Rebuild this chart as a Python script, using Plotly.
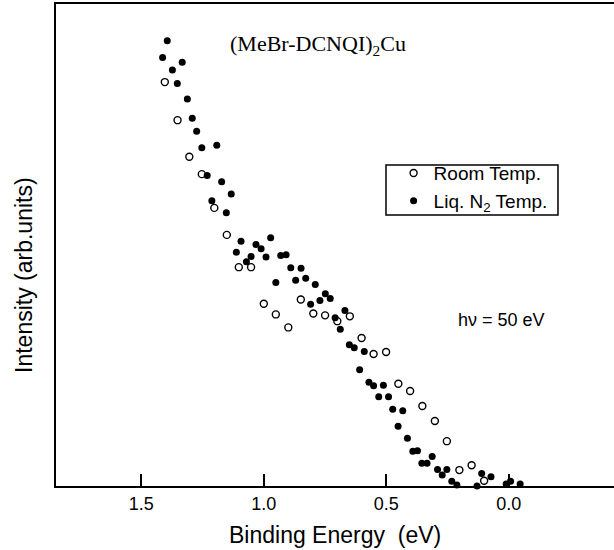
import plotly.graph_objects as go

# Room temperature spectrum (open circles)
room_energy = [1.404, 1.352, 1.304, 1.253, 1.202, 1.151, 1.102, 1.052, 1.000,
               0.951, 0.900, 0.849, 0.798, 0.750, 0.700, 0.649, 0.601, 0.552,
               0.501, 0.451, 0.403, 0.353, 0.302, 0.253, 0.202, 0.152, 0.101]
room_intensity = [83.8, 75.9, 68.3, 64.7, 57.7, 52.1, 45.4, 45.4, 37.8,
                  35.6, 32.9, 38.7, 35.8, 35.4, 34.2, 35.2, 30.7, 27.4,
                  27.8, 21.2, 19.7, 16.6, 13.5, 9.3, 3.3, 4.3, 1.1]

# Liquid N2 temperature spectrum (filled circles)
ln2_energy = [1.394, 1.413, 1.333, 1.373, 1.353, 1.312, 1.292, 1.274, 1.253,
              1.192, 1.231, 1.172, 1.133, 1.212, 1.153, 1.093, 0.972, 1.032,
              1.011, 1.112, 1.052, 0.991, 1.071, 0.931, 0.909, 0.890, 0.848,
              0.870, 0.829, 0.951, 0.790, 0.749, 0.729, 0.771, 0.809, 0.669,
              0.709, 0.688, 0.651, 0.631, 0.590, 0.609, 0.571, 0.552, 0.512,
              0.531, 0.491, 0.474, 0.433, 0.452, 0.414, 0.392, 0.373, 0.313,
              0.355, 0.334, 0.291, 0.253, 0.272, 0.233, 0.212, 0.130, 0.111,
              0.073, 0.011, -0.007, -0.046]
ln2_intensity = [92.4, 88.9, 87.9, 86.3, 83.5, 80.3, 76.3, 73.6, 70.2,
                 70.7, 64.4, 63.1, 60.6, 59.2, 56.7, 50.8, 51.5, 50.1,
                 49.2, 48.5, 47.6, 47.5, 46.5, 47.8, 48.0, 45.3, 45.2,
                 42.7, 43.1, 42.2, 41.8, 39.9, 38.9, 38.5, 37.7, 36.4,
                 34.9, 32.5, 29.3, 28.7, 27.9, 24.1, 21.5, 20.8, 20.9,
                 18.5, 18.5, 15.9, 15.6, 12.4, 9.9, 7.2, 7.3, 6.1,
                 4.7, 4.7, 3.4, 3.4, 2.3, 1.0, 0.2, 0.0, 2.6,
                 1.9, 0.4, 1.0, 0.4]

tick_vals = [1.5, 1.0, 0.5, 0.0]
tick_text = ["1.5", "1.0", "0.5", "0.0"]

font = "Liberation Sans, Arial, sans-serif"

fig = go.Figure()
fig.add_trace(go.Scatter(
    x=room_energy, y=room_intensity, mode="markers", name="Room Temp.",
    marker=dict(symbol="circle-open", size=7, color="black", line=dict(width=1.4)),
    cliponaxis=False))
fig.add_trace(go.Scatter(
    x=ln2_energy, y=ln2_intensity, mode="markers", name="Liq. N<sub>2</sub> Temp.",
    marker=dict(symbol="circle", size=7, color="black"),
    cliponaxis=False))

fig.update_layout(
    width=614, height=550,
    margin=dict(l=56, r=0, t=4, b=64),
    paper_bgcolor="white", plot_bgcolor="white",
    font=dict(family=font, color="black"),
    showlegend=True,
    legend=dict(x=0.605, y=0.62, xanchor="left", yanchor="middle",
                borderwidth=0, bgcolor="rgba(0,0,0,0)",
                font=dict(size=19, family=font), tracegroupgap=0),
    xaxis=dict(range=[1.848, -0.429], tickvals=tick_vals, ticktext=tick_text,
               ticks="inside", ticklen=12, tickwidth=2, tickcolor="black",
               showline=True, linewidth=2, linecolor="black", mirror=True,
               showgrid=False, zeroline=False,
               tickfont=dict(size=18, family=font)),
    yaxis=dict(range=[0, 100], showticklabels=False, ticks="",
               showline=True, linewidth=2, linecolor="black",
               showgrid=False, zeroline=False),
    shapes=[
        # legend frame
        dict(type="rect", xref="paper", yref="paper",
             x0=0.5914, x1=0.8996, y0=0.5622, y1=0.666,
             line=dict(color="black", width=1.5), fillcolor="rgba(0,0,0,0)"),
    ],
    annotations=[
        dict(text="Binding Energy  (eV)", xref="paper", yref="paper",
             x=0.5, y=-0.1017, xanchor="center", yanchor="middle",
             showarrow=False, font=dict(size=23, family=font)),
        dict(text="Intensity (arb.units)", xref="paper", yref="paper",
             x=-0.0565, y=0.4388, xanchor="center", yanchor="middle",
             textangle=-90, showarrow=False, font=dict(size=23, family=font)),
        dict(text="(MeBr-DCNQI)<sub>2</sub>Cu", xref="paper", yref="paper",
             x=0.308, y=0.915, xanchor="left", yanchor="middle",
             showarrow=False,
             font=dict(size=22, family="Liberation Serif, DejaVu Serif, serif")),
        dict(text="hν = 50 eV", xref="paper", yref="paper",
             x=0.799, y=0.344, xanchor="center", yanchor="middle",
             showarrow=False, font=dict(size=18, family=font)),
    ],
)

fig.write_html("out.html", config={"displayModeBar": False},
               post_script="document.body.style.margin='0px';")
